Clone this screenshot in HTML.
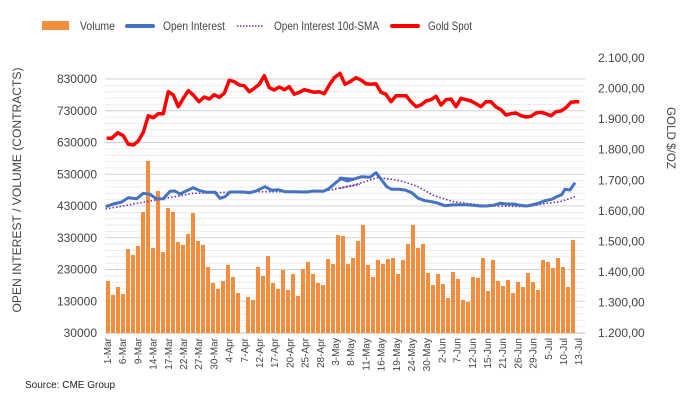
<!DOCTYPE html>
<html><head><meta charset="utf-8"><style>
body{margin:0;background:#fff;}
svg{display:block;font-family:"Liberation Sans",sans-serif;}
</style></head><body>
<svg id="c" width="697" height="415" xmlns="http://www.w3.org/2000/svg">
<g id="grid"></g><g id="bars"></g><g id="lines"></g><g id="labels" font-size="11" fill="#444"></g>
<rect x="42" y="21" width="27" height="9" fill="#F58D3F"/>
<text x="80" y="30" font-size="12" fill="#444" textLength="35" lengthAdjust="spacingAndGlyphs">Volume</text>
<line x1="127" y1="26" x2="153" y2="26" stroke="#4472C4" stroke-width="4" stroke-linecap="round"/>
<text x="163" y="30" font-size="12" fill="#444" textLength="62" lengthAdjust="spacingAndGlyphs">Open Interest</text>
<line x1="237" y1="26" x2="263" y2="26" stroke="#7030A0" stroke-width="1.5" stroke-dasharray="1.5,1.5"/>
<text x="274" y="30" font-size="12" fill="#444" textLength="105" lengthAdjust="spacingAndGlyphs">Open Interest 10d-SMA</text>
<line x1="392" y1="26" x2="418" y2="26" stroke="#FF0000" stroke-width="4" stroke-linecap="round"/>
<text x="428" y="30" font-size="12" fill="#444" textLength="44" lengthAdjust="spacingAndGlyphs">Gold Spot</text>
<text transform="translate(21,190) rotate(-90)" text-anchor="middle" font-size="12" fill="#444" textLength="245" lengthAdjust="spacingAndGlyphs">OPEN INTEREST / VOLUME (CONTRACTS)</text>
<text transform="translate(667,138) rotate(90)" text-anchor="middle" font-size="12" fill="#444" textLength="62" lengthAdjust="spacingAndGlyphs">GOLD $/OZ</text>
<text x="25" y="388" font-size="10" fill="#222">Source: CME Group</text>
</svg>
<script>
var NS="http://www.w3.org/2000/svg";
function el(p,t,a,txt){var e=document.createElementNS(NS,t);for(var k in a)e.setAttribute(k,a[k]);if(txt)e.textContent=txt;document.getElementById(p).appendChild(e);return e;}
var X0=105,X1=585,YB=333,step=31.75;
for(var i=0;i<=40;i++){var y=YB-i*step/5;if(y<45)break;el("grid","line",{x1:X0,x2:X1,y1:y,y2:y,stroke:i%5==0?"#d0d0d0":"#ececec","stroke-width":1});}
for(var v=0;v<=8;v++){var y=YB-v*step;el("labels","text",{x:97,y:y+4,"text-anchor":"end","font-size":"12"},(30000+v*100000)+"");}
for(var v=0;v<=9;v++){var y=333-v*30.55;el("labels","text",{x:598,y:y+4,"font-size":"12"},(1200+v*100).toString().replace(/^(\d)(\d{3})$/,"$1.$2")+",00");}
var h=[52,38,46,39,84,78,87,121,172,85,142,81,125,121,91,88,99,120,92,88,66,50,44,52,68,56,40,0,36,33,66,57,77,50,44,63,43,59,37,64,71,59,50,48,74,69,
98,97,69,75,92,108,68,56,73,69,74,75,59,73,89,108,85,89,60,48,59,49,35,61,54,33,31,56,55,75,42,73,52,47,53,40,51,46,60,51,43,73,71,65,75,66,46,93];
for(var i=0;i<h.length;i++){var cx=108+5*i;if(h[i]>0)el("bars","rect",{x:cx-2,y:YB-h[i],width:4,height:h[i],fill:"#F58D3F"});}
el("grid","line",{x1:X0,x2:X1,y1:YB,y2:YB,stroke:"#bbb"});
var labs="1-Mar,6-Mar,9-Mar,14-Mar,17-Mar,22-Mar,27-Mar,30-Mar,4-Apr,7-Apr,12-Apr,17-Apr,20-Apr,25-Apr,28-Apr,3-May,8-May,11-May,16-May,19-May,24-May,30-May,2-Jun,7-Jun,12-Jun,15-Jun,21-Jun,26-Jun,29-Jun,5-Jul,10-Jul,13-Jul".split(",");
for(var i=0;i<labs.length;i++){var x=107+i*15.2;el("labels","text",{transform:"translate("+(x+4)+",338) rotate(-90)","text-anchor":"end","font-size":"10"},labs[i]);}
function pts(a,ox,oy){var s=[];for(var i=0;i<a.length;i+=2)s.push((a[i]/3+ox).toFixed(1)+","+(a[i+1]/3+oy).toFixed(1));return s;}
var sma=pts([137,177,300,148,400,130,500,127,600,125,700,125,790,124,900,103],60,150).concat(pts([0,115,60,100,115,82,180,92,230,108,280,136,340,155,400,163,440,167,560,170,620,160,660,155,705,140],340,150));
el("lines","polyline",{points:sma.join(" "),fill:"none",stroke:"#7030A0","stroke-width":1.6,"stroke-dasharray":"1.5,2"});
var oi=pts([137,170,160,162,185,156,205,143,230,146,250,130,270,133,290,147,310,146,330,124,345,123,360,132,380,122,400,113,420,122,440,127,465,127,480,145,495,140,510,126,550,126,570,128,590,122,615,110,635,121,655,119,675,125,700,125,740,126,760,123,790,124,805,117,825,100,845,84,860,93,880,88],60,150).concat(pts([0,85,20,92,45,86,65,80,90,82,108,68,125,90,140,110,155,118,175,118,195,120,215,128,235,145,255,152,275,155,295,160,315,167,335,165,355,164,380,164,400,166,420,168,440,168,460,166,480,160,500,162,520,162,540,166,560,168,575,165,595,160,615,152,635,148,655,138,665,134,675,118,690,120,705,98],340,150));
el("lines","polyline",{points:oi.join(" "),fill:"none",stroke:"#4472C4","stroke-width":3,"stroke-linejoin":"round"});
var g=pts([35,250,50,250,68,233,85,242,100,268,115,270,130,258,145,232,160,182,175,188,190,176,205,176,220,110,235,120,250,155,265,130,280,107,295,120,312,140,328,126,343,132,358,119,373,127,388,115,403,76,418,80,433,90,448,92,463,110,478,100,493,88,508,62,523,98,538,105,553,96,568,104,583,95,598,118,613,112,628,104,643,108,658,112,673,110,688,116,703,90,718,68,733,57],95,55).concat(pts([0,55,15,88,30,80,48,68,63,75,78,86,93,88,108,86,123,112,138,118,153,140,168,122,183,122,198,122,213,140,228,155,243,150,258,138,273,134,288,124,303,150,318,134,333,132,348,155,363,130,378,134,393,138,408,146,423,155,438,140,453,140,468,156,483,164,498,180,513,176,528,174,543,182,558,186,573,184,588,174,603,172,618,176,633,182,648,170,663,168,678,158,693,142,708,140,718,140],340,55));
el("lines","polyline",{points:g.join(" "),fill:"none",stroke:"#FF0000","stroke-width":3.5,"stroke-linejoin":"round"});
</script>
</body></html>
